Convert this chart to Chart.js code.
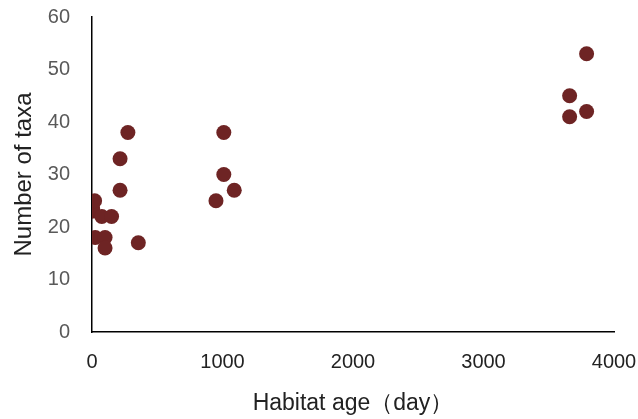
<!DOCTYPE html>
<html>
<head>
<meta charset="utf-8">
<script src="https://cdn.jsdelivr.net/npm/chart.js@4/dist/chart.umd.min.js"></script>
<style>
  html, body { margin: 0; padding: 0; background: #fff; }
  #wrap { width: 638px; height: 419px; position: relative; }
</style>
</head>
<body>
<div id="wrap"><canvas id="chart"></canvas></div>
<script>
// habitat age (days) vs number of taxa
const ageDays   = [0, 5, 20, 75, 150, 25, 100, 100, 215, 215, 275, 355, 950, 1010, 1010, 1090, 3660, 3660, 3790, 3790];
const taxaCount = [23, 23.5, 25, 22, 22, 18, 18, 16, 27, 33, 38, 17, 25, 38, 30, 27, 45, 41, 53, 42];

const xTicks = [0, 1000, 2000, 3000, 4000];
const yTicks = [0, 10, 20, 30, 40, 50, 60];

const POINT = '#6e2424';
const FONT = "'Liberation Sans', Arial, sans-serif";

const points = ageDays.map((d, i) => ({ x: d, y: taxaCount[i] }));

new Chart(document.getElementById('chart'), {
  type: 'scatter',
  data: {
    datasets: [{
      data: points,
      backgroundColor: POINT,
      borderWidth: 0,
      pointRadius: 7.5,
      pointHoverRadius: 7.5,
    }],
  },
  options: {
    responsive: true,
    maintainAspectRatio: false,
    animation: false,
    layout: { padding: { top: 17, right: 24, left: 0, bottom: 0 } },
    plugins: { legend: { display: false }, tooltip: { enabled: false } },
    scales: {
      x: {
        type: 'linear',
        min: 0, max: 4000,
        afterBuildTicks: s => { s.ticks = xTicks.map(v => ({ value: v })); },
        afterFit: s => { s.height = 87; s.paddingLeft = 0; s.paddingRight = 0; },
        grid: { display: false, drawTicks: false },
        border: { display: true, color: '#000', width: 1.5 },
        ticks: { padding: 18, color: '#222', font: { family: FONT, size: 20 }, callback: v => String(v) },
        title: {
          display: true,
          text: 'Habitat age（day）',
          color: '#222',
          font: { family: FONT, size: 23 },
          padding: { top: 0, bottom: 2 },
        },
      },
      y: {
        min: 0, max: 60,
        afterBuildTicks: s => { s.ticks = yTicks.map(v => ({ value: v })); },
        afterFit: s => { s.width = 92; s.paddingTop = 0; s.paddingBottom = 0; },
        grid: { display: false, drawTicks: false },
        border: { display: true, color: '#000', width: 1.5 },
        ticks: { padding: 22, color: '#595959', font: { family: FONT, size: 20 }, callback: v => String(v) },
        title: {
          display: true,
          text: 'Number of taxa',
          color: '#222',
          font: { family: FONT, size: 24 },
          padding: { top: 10, bottom: 0 },
        },
      },
    },
  },
});
</script>
</body>
</html>
